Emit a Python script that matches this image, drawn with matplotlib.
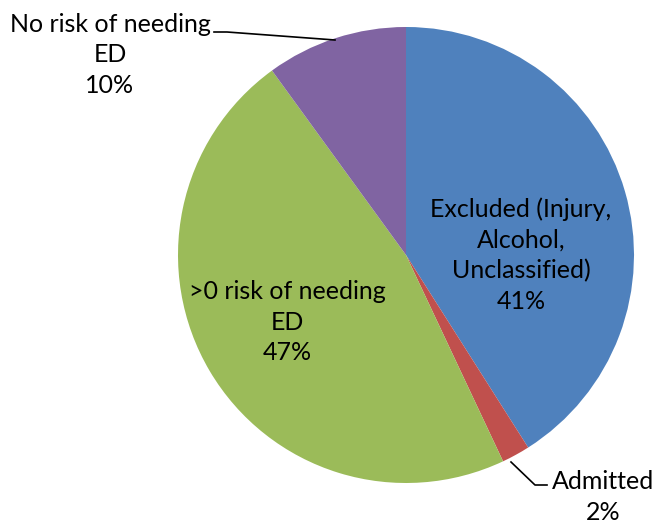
import matplotlib
matplotlib.use('Agg')
import matplotlib.pyplot as plt

plt.rcParams['font.family'] = ['Lato', 'DejaVu Sans']

# data
labels = ['Excluded (Injury,\nAlcohol,\nUnclassified)', 'Admitted',
          '>0 risk of needing\nED', 'No risk of needing\nED']
shares = [41, 2, 47, 10]
colors = ['#4F81BD', '#C0504D', '#9BBB59', '#8064A2']

W, H = 658, 525


def px(x, y):
    # pixel coordinates (top-left origin) -> data coordinates
    return x, H - y


fig = plt.figure(figsize=(W / 100, H / 100), dpi=100)
ax = fig.add_axes([0, 0, 1, 1])
ax.pie(shares, colors=colors, startangle=90, counterclock=False,
       center=px(406, 255), radius=228, frame=True,
       wedgeprops={'linewidth': 0})
ax.set_xlim(0, W)
ax.set_ylim(0, H)
ax.set_aspect('equal')
ax.axis('off')

FS = 18
# label block centres in pixels
label_pos = [(521, 255), (603, 497), (287, 322), (110, 55)]
for lab, pct, (x, y) in zip(labels, shares, label_pos):
    ax.text(*px(x, y), f'{lab}\n{pct}%', ha='center', va='center',
            fontsize=FS, linespacing=1.4, color='black')

# leader lines
for pts in ([(214, 32), (227, 32), (335, 40)],
            [(511, 462), (535, 485), (547, 485)]):
    xs, ys = zip(*[px(x, y) for x, y in pts])
    ax.plot(xs, ys, color='black', linewidth=1.2)

fig.savefig('out.png', dpi=100)
